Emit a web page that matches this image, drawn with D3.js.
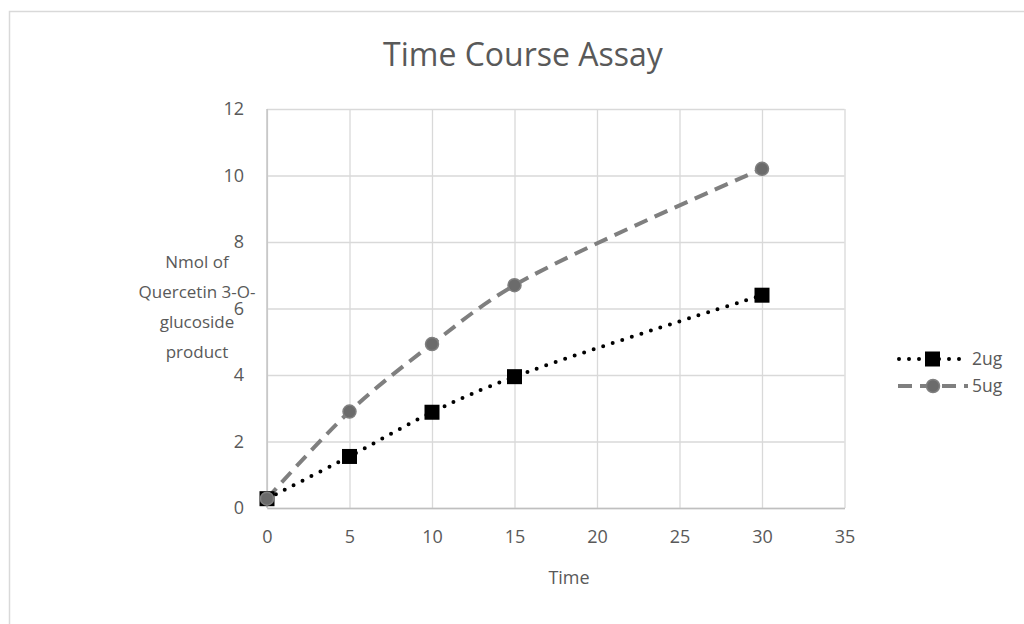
<!DOCTYPE html>
<html>
<head>
<meta charset="utf-8">
<script src="https://cdn.jsdelivr.net/npm/d3@7"></script>
<style>
  body { margin: 0; background: #fff; }
  text { font-family: "Open Sans", "Noto Sans", sans-serif; fill: #595959; }
</style>
</head>
<body>
<svg width="1024" height="624"></svg>
<script>
// data
var times = [0, 5, 10, 15, 30];
var series2ug = [0.28, 1.55, 2.88, 3.95, 6.4];
var series5ug = [0.28, 2.9, 4.93, 6.7, 10.2];
var xTicks = [0, 5, 10, 15, 20, 25, 30, 35];
var yTicks = [0, 2, 4, 6, 8, 10, 12];
var seriesNames = ["2ug", "5ug"];

var svg = d3.select("svg");

// outer chart frame
svg.append("rect")
    .attr("x", 9.5).attr("y", 11.5)
    .attr("width", 1030).attr("height", 640)
    .attr("fill", "none")
    .attr("stroke", "#d9d9d9")
    .attr("stroke-width", 1.5);

var margin = {top: 109, left: 267},
    width = 844.5 - 267,
    height = 508 - 109;

var x = d3.scaleLinear().domain([0, 35]).range([0, width]);
var y = d3.scaleLinear().domain([0, 12]).range([height, 0]);

var g = svg.append("g")
    .attr("transform", "translate(" + margin.left + "," + margin.top + ")");

// gridlines
g.append("g")
    .call(d3.axisLeft(y).tickValues(yTicks).tickSize(-width).tickFormat(""))
    .call(function(a) {
        a.select(".domain").remove();
        a.selectAll("line").attr("stroke", "#d9d9d9").attr("stroke-width", 1.3);
    });
g.append("g")
    .attr("transform", "translate(0," + height + ")")
    .call(d3.axisBottom(x).tickValues(xTicks).tickSize(-height).tickFormat(""))
    .call(function(a) {
        a.select(".domain").remove();
        a.selectAll("line").attr("stroke", "#d9d9d9").attr("stroke-width", 1.3);
    });

// axes
var xAxis = g.append("g")
    .attr("transform", "translate(0," + height + ")")
    .call(d3.axisBottom(x).tickValues(xTicks).tickSize(0).tickPadding(22));
var yAxis = g.append("g")
    .call(d3.axisLeft(y).tickValues(yTicks).tickSize(0).tickPadding(23));
[xAxis, yAxis].forEach(function(a) {
    a.select(".domain").attr("stroke", "#bfbfbf").attr("stroke-width", 1.3);
    a.selectAll("text").attr("font-size", 18).style("fill", "#595959")
        .attr("font-family", "\"Open Sans\", sans-serif");
});
yAxis.select(".domain").remove();
g.append("line")
    .attr("x1", 0).attr("x2", 0).attr("y1", 0).attr("y2", height)
    .attr("stroke", "#bfbfbf").attr("stroke-width", 1.3);

var line = d3.line()
    .x(function(d) { return x(d[0]); })
    .y(function(d) { return y(d[1]); })
    .curve(d3.curveCatmullRom.alpha(0.5));

var d2 = times.map(function(t, i) { return [t, series2ug[i]]; });
var d5 = times.map(function(t, i) { return [t, series5ug[i]]; });

// 5ug gray dashed
g.append("path")
    .datum(d5)
    .attr("d", line)
    .attr("fill", "none")
    .attr("stroke", "#7f7f7f")
    .attr("stroke-width", 4)
    .attr("stroke-dasharray", "14,8");

// 2ug black dotted
g.append("path")
    .datum(d2)
    .attr("d", line)
    .attr("fill", "none")
    .attr("stroke", "#000")
    .attr("stroke-width", 4)
    .attr("stroke-linecap", "round")
    .attr("stroke-dasharray", "0,10");

g.selectAll(".sq")
    .data(d2)
    .enter().append("rect")
    .attr("x", function(d) { return x(d[0]) - 7.5; })
    .attr("y", function(d) { return y(d[1]) - 7.5; })
    .attr("width", 15).attr("height", 15)
    .attr("fill", "#000");

g.selectAll(".ci")
    .data(d5)
    .enter().append("circle")
    .attr("cx", function(d) { return x(d[0]); })
    .attr("cy", function(d) { return y(d[1]); })
    .attr("r", 6.5)
    .attr("fill", "#6b6b6b")
    .attr("stroke", "#7f7f7f")
    .attr("stroke-width", 1.5);

// title
svg.append("text")
    .attr("x", 523).attr("y", 66)
    .attr("text-anchor", "middle")
    .attr("font-size", 32)
    .text("Time Course Assay");

// axis titles
svg.append("text")
    .attr("x", 569).attr("y", 584)
    .attr("text-anchor", "middle")
    .attr("font-size", 18)
    .text("Time");

var yTitle = ["Nmol of", "Quercetin 3-O-", "glucoside", "product"];
svg.append("g").selectAll("text")
    .data(yTitle)
    .enter().append("text")
    .attr("x", 197)
    .attr("y", function(d, i) { return 268 + i * 30; })
    .attr("text-anchor", "middle")
    .attr("font-size", 17)
    .text(function(d) { return d; });

// legend
var legend = svg.append("g");
var legY = [359, 386];
legend.append("line")
    .attr("x1", 899).attr("x2", 966).attr("y1", legY[0]).attr("y2", legY[0])
    .attr("stroke", "#000").attr("stroke-width", 4)
    .attr("stroke-linecap", "round").attr("stroke-dasharray", "0,10");
legend.append("rect")
    .attr("x", 925).attr("y", legY[0] - 7.5).attr("width", 15).attr("height", 15)
    .attr("fill", "#000");
legend.append("line")
    .attr("x1", 898).attr("x2", 968).attr("y1", legY[1]).attr("y2", legY[1])
    .attr("stroke", "#7f7f7f").attr("stroke-width", 4)
    .attr("stroke-dasharray", "14,8");
legend.append("circle")
    .attr("cx", 933).attr("cy", legY[1]).attr("r", 6.5)
    .attr("fill", "#6b6b6b").attr("stroke", "#7f7f7f").attr("stroke-width", 1.5);
legend.selectAll(".lt")
    .data(seriesNames)
    .enter().append("text")
    .attr("x", 972)
    .attr("y", function(d, i) { return legY[i] + 6; })
    .attr("font-size", 17.5)
    .text(function(d) { return d; });
</script>
</body>
</html>
